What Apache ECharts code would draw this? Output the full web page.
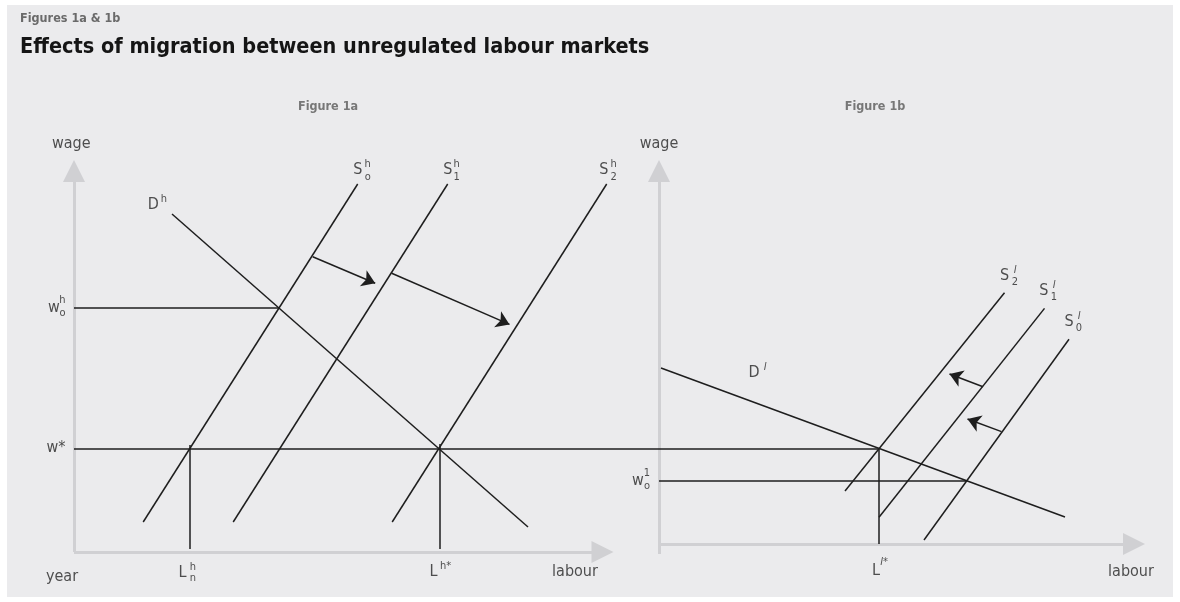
<!DOCTYPE html>
<html>
<head>
<meta charset="utf-8">
<script src="https://cdn.jsdelivr.net/npm/echarts@6/dist/echarts.min.js"></script>
<style>
html,body{margin:0;padding:0;background:#ffffff;}
#chart{width:1180px;height:602px;}
</style>
</head>
<body>
<div id="chart"></div>
<script>
// ================= DATA (labour units on x, wage units on y) =================
// ---- Figure 1a : high-wage labour market ----
const axisA_x = [[0, 0], [105.7, 0]];          // labour axis (arrow)
const axisA_y = [[0, 0], [0, 95.25]];          // wage axis (arrow)
const demandH  = [[19.6, 84.5], [90.8, 6.25]]; // D^h
const supplyH0 = [[13.84, 7.5], [56.74, 92]];  // S^h_o
const supplyH1 = [[31.84, 7.5], [74.74, 92]];  // S^h_1
const supplyH2 = [[63.64, 7.5], [106.54, 92]]; // S^h_2
const wageH0 = 61;          // w^h_o
const wageH0End = 41;       // labour at which D^h meets S^h_o
const wageStar = 25.75;     // w*
const labourHn = 23.1;      // L^h_n
const labourHnTop = 26.75;
const labourHStar = 73.1;   // L^h*
const labourHStarTop = 27;
const labourFoot = 0.75;
const shiftH = [
  [[47.74, 73.8], [60.24, 67.2]],
  [[63.54, 69.7], [87.1, 56.9]]
];
// ---- Figure 1b : low-wage labour market ----
const axisB_x = [[0, 2], [95.0, 2]];
const axisB_y = [[0, -0.5], [0, 95.25]];
const demandL  = [[0.4, 46], [81.2, 8.75]];    // D^l
const supplyL0 = [[53, 3], [82, 53.2]];        // S^l_0
const supplyL1 = [[44, 8.7], [77.1, 60.9]];    // S^l_1
const supplyL2 = [[37.2, 15.25], [69.1, 64.8]];// S^l_2
const wageL0 = 17.8;        // w^1_o
const wageL0End = 61.6;
const labourLStar = 44;     // L^l*
const labourLFoot = 2;
const wageStarStartB = -7;
const shiftL = [
  [[64.8, 41.3], [58.1, 44.5]],
  [[68.5, 30.1], [61.7, 33.25]]
];
// ---- texts ----
const mainTitle = 'Effects of migration between unregulated labour markets';
const preTitle = 'Figures 1a & 1b';
const panelTitles = ['Figure 1a', 'Figure 1b'];
const axisNames = { wage: 'wage', labour: 'labour', year: 'year' };

// ================= STYLE =================
const FONT = '"DejaVu Sans Condensed","Liberation Sans Narrow","Arial Narrow",sans-serif';
const INK = '#1e1e1e';
const AXIS = '#d0d0d3';
const BIG = 16, SMALL = 11;

function seg(a, b) { return { coords: [a, b] }; }
function lab(at, text, dx, dy, size, extra) {
  return {
    value: at,
    label: Object.assign({
      show: true, formatter: text, offset: [dx, dy], fontSize: size,
      fontFamily: FONT, color: '#262626', position: 'inside'
    }, extra || {})
  };
}
function sym(at, main, sup, sub, mo, so, supExtra) {
  // main text with stacked superscript / subscript
  const out = [lab(at, main, mo[0], mo[1], BIG)];
  if (sup) out.push(lab(at, sup, so[0], so[1], SMALL, supExtra));
  if (sub) out.push(lab(at, sub, so[0], so[2], SMALL));
  return out;
}
const ital = { fontStyle: 'italic' };

function axisSeries(idx, data) {
  return {
    type: 'lines', coordinateSystem: 'cartesian2d', xAxisIndex: idx, yAxisIndex: idx,
    polyline: false, clip: false, silent: true, z: 1,
    symbol: ['none', 'triangle'], symbolSize: [13, 22],
    lineStyle: { color: AXIS, width: 3, opacity: 1 },
    data: data
  };
}
function inkSeries(idx, data) {
  return {
    type: 'lines', coordinateSystem: 'cartesian2d', xAxisIndex: idx, yAxisIndex: idx,
    polyline: false, clip: false, silent: true, z: 3,
    symbol: ['none', 'none'],
    lineStyle: { color: INK, width: 1.5, opacity: 1 },
    data: data
  };
}
function arrowSeries(idx, data) {
  return {
    type: 'lines', coordinateSystem: 'cartesian2d', xAxisIndex: idx, yAxisIndex: idx,
    polyline: false, clip: false, silent: true, z: 4,
    symbol: ['none', 'arrow'], symbolSize: [7, 13],
    lineStyle: { color: INK, width: 1.5, opacity: 1 },
    data: data
  };
}
function labelSeries(idx, data) {
  return {
    type: 'scatter', xAxisIndex: idx, yAxisIndex: idx, symbolSize: 0,
    clip: false, silent: true, z: 5, data: data
  };
}

const labelsA = [].concat(
  [lab(axisA_y[1], axisNames.wage, -2.7, -27, BIG)],
  sym([0, wageH0], 'w', 'h', 'o', [-20, 0], [-11.5, -8, 5]),
  [lab([0, wageStar], 'w*', -18, -1, BIG)],
  [lab(axisA_x[0], axisNames.year, -12, 25, BIG)],
  sym([labourHn, 0], 'L', 'h', 'n', [-7, 21], [3.5, 15, 26]),
  sym([labourHStar, 0], 'L', 'h*', null, [-6, 20], [6, 14]),
  [lab(axisA_x[1], axisNames.labour, -27.5, 20, BIG)],
  sym(demandH[0], 'D', 'h', null, [-18.7, -9], [-8, -15]),
  sym(supplyH0[1], 'S', 'h', 'o', [0, -14], [10, -20, -7]),
  sym(supplyH1[1], 'S', 'h', '1', [0, -14], [9, -20, -7]),
  sym(supplyH2[1], 'S', 'h', '2', [-3, -14], [7, -20, -7])
);
const labelsB = [].concat(
  [lab(axisB_y[1], axisNames.wage, 0, -27, BIG)],
  sym([0, wageL0], 'w', '1', 'o', [-21, 0], [-12, -8, 5]),
  sym([labourLStar, labourLFoot], 'L', 'l*', null, [-3, 27], [5, 18], ital),
  [lab(axisB_x[1], axisNames.labour, -3, 28, BIG)],
  sym(demandL[0], 'D', 'l', null, [93, 5], [104, -1], ital),
  sym(supplyL2[1], 'S', 'l', '2', [0, -17], [10.5, -23, -11], ital),
  sym(supplyL1[1], 'S', 'l', '1', [-0.7, -17.5], [9.5, -23, -11], ital),
  sym(supplyL0[1], 'S', 'l', '0', [0, -17], [10, -23, -11], ital)
);

const gridBox = { top: 152, height: 420, width: 550 };
const option = {
  animation: false,
  backgroundColor: '#ffffff',
  graphic: [{
    type: 'rect', z: -10, silent: true,
    shape: { x: 7, y: 5, width: 1166, height: 592 },
    style: { fill: '#ebebed' }
  }],
  title: [
    { text: preTitle, left: 15, top: 7,
      textStyle: { fontFamily: FONT, fontSize: 12.5, fontWeight: 'bold', color: '#6a6a6a' } },
    { text: mainTitle, left: 15, top: 31,
      textStyle: { fontFamily: FONT, fontSize: 21.5, fontWeight: 'bold', color: '#151515' } },
    { text: panelTitles[0], left: 323, top: 95, textAlign: 'center',
      textStyle: { fontFamily: FONT, fontSize: 12.5, fontWeight: 'bold', color: '#777777' } },
    { text: panelTitles[1], left: 870, top: 95, textAlign: 'center',
      textStyle: { fontFamily: FONT, fontSize: 12.5, fontWeight: 'bold', color: '#777777' } }
  ],
  grid: [
    Object.assign({ left: 74 }, gridBox),
    Object.assign({ left: 624 }, gridBox)
  ],
  xAxis: [
    { type: 'value', gridIndex: 0, min: 0, max: 110, show: false },
    { type: 'value', gridIndex: 1, min: -7, max: 103, show: false }
  ],
  yAxis: [
    { type: 'value', gridIndex: 0, min: -5, max: 100, show: false },
    { type: 'value', gridIndex: 1, min: -5, max: 100, show: false }
  ],
  series: [
    axisSeries(0, [seg(axisA_x[0], axisA_x[1]), seg(axisA_y[0], axisA_y[1])]),
    axisSeries(1, [seg(axisB_x[0], axisB_x[1]), seg(axisB_y[0], axisB_y[1])]),
    inkSeries(0, [
      seg(demandH[0], demandH[1]),
      seg(supplyH0[0], supplyH0[1]),
      seg(supplyH1[0], supplyH1[1]),
      seg(supplyH2[0], supplyH2[1]),
      seg([0, wageH0], [wageH0End, wageH0]),
      seg([0, wageStar], [110, wageStar]),
      seg([labourHn, labourHnTop], [labourHn, labourFoot]),
      seg([labourHStar, labourHStarTop], [labourHStar, labourFoot])
    ]),
    inkSeries(1, [
      seg(demandL[0], demandL[1]),
      seg(supplyL0[0], supplyL0[1]),
      seg(supplyL1[0], supplyL1[1]),
      seg(supplyL2[0], supplyL2[1]),
      seg([0, wageL0], [wageL0End, wageL0]),
      seg([wageStarStartB, wageStar], [labourLStar, wageStar]),
      seg([labourLStar, wageStar], [labourLStar, labourLFoot])
    ]),
    arrowSeries(0, shiftH.map(s => seg(s[0], s[1]))),
    arrowSeries(1, shiftL.map(s => seg(s[0], s[1]))),
    labelSeries(0, labelsA),
    labelSeries(1, labelsB)
  ]
};
const chart = echarts.init(document.getElementById('chart'), null, { renderer: 'canvas' });
chart.setOption(option);
</script>
</body>
</html>
